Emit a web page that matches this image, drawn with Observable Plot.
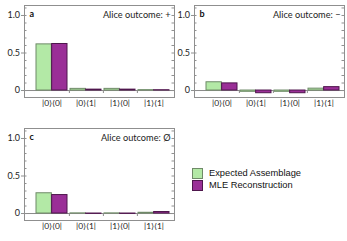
<!DOCTYPE html>
<html>
<head>
<meta charset="utf-8">
<script src="https://cdn.jsdelivr.net/npm/d3@7"></script>
<script src="https://cdn.jsdelivr.net/npm/@observablehq/plot@0.6"></script>
<style>
  html, body { margin: 0; padding: 0; background: #fff; }
  #chart { position: relative; width: 347px; height: 241px; overflow: hidden; }
  .panel { position: absolute; }
  .legend { position: absolute; left: 192px; top: 167px; font-family: "Liberation Sans", Arial, sans-serif; font-size: 9.3px; color: #111; }
  .legend .row { display: flex; align-items: center; height: 12px; }
  .legend .sw { width: 9px; height: 9px; margin-right: 6px; box-sizing: content-box; }
</style>
</head>
<body>
<div id="chart"></div>
<script>
// ---- data ----
const categories = ["|0⟩⟨0|", "|0⟩⟨1|", "|1⟩⟨0|", "|1⟩⟨1|"];
const seriesNames = ["Expected Assemblage", "MLE Reconstruction"];

const aExpected = [0.615, 0.022, 0.022, 0.005];
const aMLE      = [0.62, 0.012, 0.012, 0.004];
const bExpected = [0.11, -0.017, -0.017, 0.025];
const bMLE      = [0.095, -0.036, -0.036, 0.045];
const cExpected = [0.27, 0.002, 0.002, 0.01];
const cMLE      = [0.246, -0.005, -0.005, 0.02];

const panelLabels = ["a", "b", "c"];
const outcomeLabels = ["Alice outcome: +", "Alice outcome: \u2212", "Alice outcome: \u00d8"];
const yTickLabels = [0, 0.5, 1.0];

// ---- styling ----
const fills = ["#b3e9a6", "#9a2f97"];
const strokes = ["#6f8a68", "#4e164c"];
const W = 176, H = 110;
const xRange = [33, 172];
const band = d3.scaleBand().domain(categories).range(xRange).paddingInner(0.1).paddingOuter(0.05);
const half = band.bandwidth() / 2;
const step = band.step();

function panel(label, outcome, expected, mle) {
  const rows = categories.map((c, i) => ({cat: c, exp: expected[i], mle: mle[i]}));
  const minorTicks = d3.range(0, 12).map(i => i / 10);
  const frameW = W - 24 - 2;
  return Plot.plot({
    width: W, height: H,
    marginLeft: 24, marginRight: 2, marginTop: 5, marginBottom: 13,
    style: {fontFamily: "Lato, 'Open Sans', sans-serif", fontSize: "8px", color: "#222", background: "transparent"},
    x: {type: "band", domain: categories, range: xRange, paddingInner: 0.1, paddingOuter: 0.05, label: null},
    y: {domain: [-0.093, 1.133], label: null},
    marks: [
      Plot.ruleY([0], {stroke: "#8a8a8a", strokeWidth: 1}),
      Plot.barY(rows, {x: "cat", y: "exp", fill: fills[0], stroke: strokes[0], strokeWidth: 1, insetRight: half, insetLeft: 0}),
      Plot.barY(rows, {x: "cat", y: "mle", fill: fills[1], stroke: strokes[1], strokeWidth: 1, insetLeft: half, insetRight: 0}),
      Plot.ruleX(categories.slice(0, 3), {x: d => d, y1: 0, y2: -0.04, dx: step / 2, stroke: "#8a8a8a"}),
      Plot.ruleY(minorTicks, {y: d => d, insetRight: frameW - 2.5, stroke: "#909090"}),
      Plot.ruleY(minorTicks, {y: d => d, insetLeft: frameW - 2.5, stroke: "#909090"}),
      Plot.frame({stroke: "#8f8f8f", strokeWidth: 1}),
      Plot.axisY(yTickLabels, {anchor: "left", tickSize: 3, tickPadding: 1.5, stroke: "#8f8f8f", fontSize: 9, tickFormat: d => d === 0 ? "0" : d.toFixed(1), fill: "#222"}),
      Plot.axisX(categories, {anchor: "bottom", tickSize: 0, tickPadding: 2.5, fontSize: 8.4, fill: "#222"}),
      Plot.text([label], {text: d => d, frameAnchor: "top-left", dx: 5, dy: 5.5, fontWeight: "bold", fontSize: 9, fill: "#111", textAnchor: "start"}),
      Plot.text([outcome], {text: d => d, frameAnchor: "top-right", dx: -4, dy: 5.5, fontSize: 9.2, fill: "#222", textAnchor: "end"})
    ]
  });
}

const chart = document.getElementById("chart");
const specs = [
  {left: 0, top: 0, exp: aExpected, mle: aMLE},
  {left: 170, top: 0, exp: bExpected, mle: bMLE},
  {left: 0, top: 123, exp: cExpected, mle: cMLE}
];
specs.forEach((s, i) => {
  const el = panel(panelLabels[i], outcomeLabels[i], s.exp, s.mle);
  el.classList.add("panel");
  el.style.left = s.left + "px";
  el.style.top = s.top + "px";
  chart.appendChild(el);
});

// legend
const legend = document.createElement("div");
legend.className = "legend";
seriesNames.forEach((name, i) => {
  const row = document.createElement("div");
  row.className = "row";
  const sw = document.createElement("span");
  sw.className = "sw";
  sw.style.background = fills[i];
  sw.style.border = "1px solid " + strokes[i];
  const t = document.createElement("span");
  t.textContent = name;
  row.appendChild(sw);
  row.appendChild(t);
  legend.appendChild(row);
});
chart.appendChild(legend);
</script>
</body>
</html>
